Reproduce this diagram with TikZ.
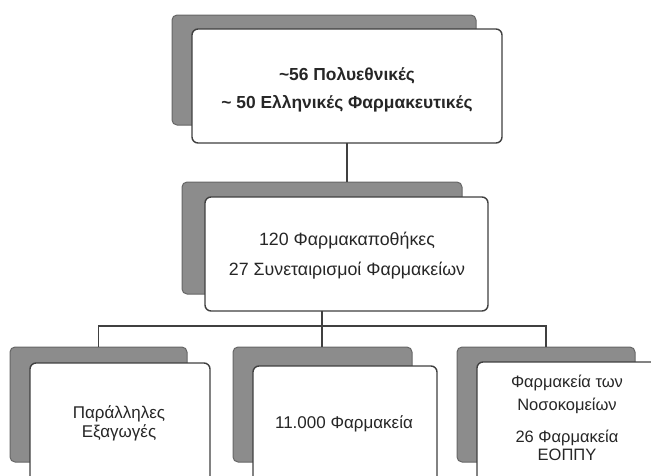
\documentclass[tikz,border=0pt]{standalone}
\usepackage{fontspec}
\setmainfont{Liberation Sans}
\begin{document}
\begin{tikzpicture}[x=1pt,y=-1pt,
  shadowbox/.style={draw=black!60,line width=1pt,fill=black!45,rounded corners=5pt,anchor=north west,inner sep=0pt,outer sep=0pt},
  whitebox/.style={draw=black!75,line width=1.4pt,fill=white,rounded corners=6pt,anchor=north west,inner sep=0pt,outer sep=0pt},
  txt/.style={anchor=base,inner sep=0pt,font=\fontsize{17}{19}\selectfont,text=black!85},
  midtxt/.style={txt,font=\fontsize{17.8}{19}\selectfont},
  toptxt/.style={txt,font=\fontsize{17.4}{19}\selectfont\bfseries},
  link/.style={draw=black!75,line width=1.4pt}]
\useasboundingbox (0,0) rectangle (651,475);
\begin{scope}
\clip (0,0) rectangle (651,475);
% top
\node[shadowbox,minimum width=304pt,minimum height=110pt] (ts) at (172,15) {};
\node[whitebox,minimum width=310pt,minimum height=114pt] (tw) at (192,29) {};
\node[toptxt] (t1) at (347,80) {\textasciitilde56 Πολυεθνικές};
\node[toptxt] (t2) at (347,108) {\textasciitilde\ 50 Ελληνικές Φαρμακευτικές};
% middle
\node[shadowbox,minimum width=280pt,minimum height=112pt] (ms) at (182,182) {};
\node[whitebox,minimum width=283pt,minimum height=114pt] (mw) at (205,197) {};
\node[midtxt] (m1) at (347,245) {120 Φαρμακαποθήκες};
\node[midtxt] (m2) at (347,275) {27 Συνεταιρισμοί Φαρμακείων};
% bottom
\node[shadowbox,minimum width=177pt,minimum height=115pt] (as) at (10,347) {};
\node[whitebox,minimum width=180pt,minimum height=130pt] (aw) at (30,363) {};
\node[txt] (a1) at (119,418) {Παράλληλες};
\node[txt] (a2) at (119,437) {Εξαγωγές};
\node[shadowbox,minimum width=179pt,minimum height=115pt] (bs) at (233,347) {};
\node[whitebox,minimum width=184pt,minimum height=130pt] (bw) at (253,366) {};
\node[txt] (b1) at (344,428) {11.000 Φαρμακεία};
\node[shadowbox,minimum width=178pt,minimum height=115pt] (cs) at (457,347) {};
\node[whitebox,minimum width=185pt,minimum height=130pt] (cw) at (477,362) {};
\node[txt,font=\fontsize{16.5}{19}\selectfont] (c1) at (567,387) {Φαρμακεία των};
\node[txt,font=\fontsize{16.5}{19}\selectfont] (c2) at (567,410) {Νοσοκομείων};
\node[txt,font=\fontsize{16.5}{19}\selectfont] (c3) at (567,442) {26 Φαρμακεία};
\node[txt,font=\fontsize{16.5}{19}\selectfont] (c4) at (567,460) {ΕΟΠΠΥ};
\end{scope}
% connectors
\coordinate (j) at (322,326);
\draw[link] (tw.south -| t1.base) -- (ms.north -| t1.base);
\draw[link] (mw.south -| j) -- (j);
\draw[link] (as.north) |- (j) -| (cs.north);
\draw[link] (j) -- (bs.north -| j);
\end{tikzpicture}
\end{document}
